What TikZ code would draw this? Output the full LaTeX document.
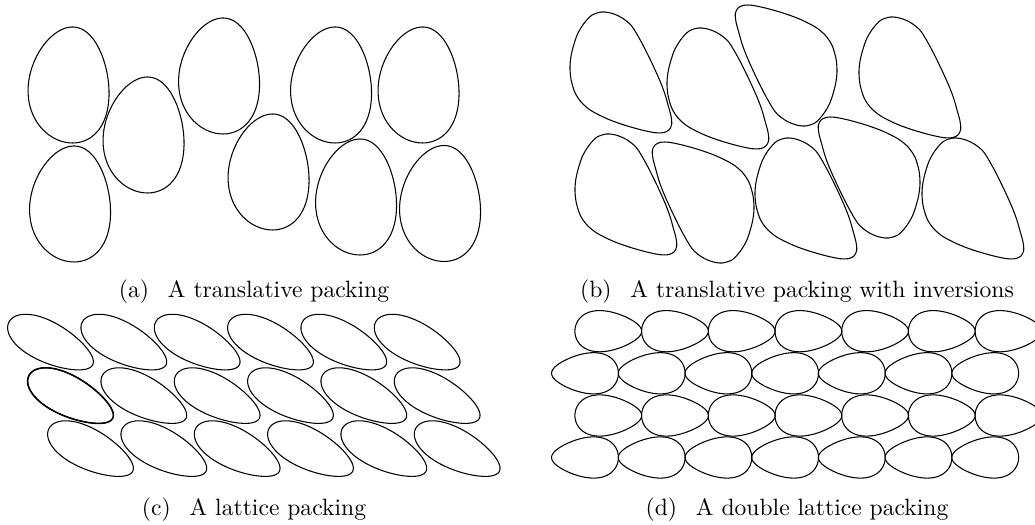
\documentclass[tikz,border=0pt]{standalone}
\begin{document}
\begin{tikzpicture}[x=0.4237pt,y=-0.4237pt,line width=0.45pt,
  caption/.style={anchor=base,inner sep=0pt,font=\normalsize}]
\useasboundingbox (0,0) rectangle (1035,525);
\clip (0,0) rectangle (1035,525);

% (a) translates of one upright egg, narrow end up
\foreach \cx/\cy in {68.5/85, 143.5/135, 219/76, 70/204, 268.5/172,
                     331/85, 418.5/85, 356/197, 440/203.5}{
  \draw[shift={(\cx,\cy)}] plot[variable=\t,domain=0:356,samples=90,smooth cycle]
    ({40.2*sin(\t)*(1-0.12*cos(\t))+4*cos(\t)*cos(\t)},{-58*cos(\t)});
}

% (b) teardrops, some turned through 180 degrees
\def\tri{plot[smooth cycle] coordinates {
  (-18.8,-60.5) (-8.8,-59.2) (1.2,-54.8) (11.2,-46.5) (21.2,-29.8)
  (31.2,-9.8) (39.5,8.5) (44.5,21.8) (47.8,33.5) (50.5,43.5)
  (51.2,51.8) (48.5,57.5) (42.8,60.2) (34.5,60.2) (21.2,57.5)
  (4.5,52.8) (-12.2,46.8) (-28.8,38.5) (-38.8,30.2) (-45.5,20.2)
  (-49.5,6.8) (-50.5,-6.5) (-48.8,-19.8) (-43.8,-36.5) (-37.2,-48.2)
  (-28.8,-57.2)}}
\foreach \cx/\cy/\rot in {620.5/72.5/0, 717.5/88.5/0, 786.5/65.5/180,
                          909.5/77.5/0, 625.5/194.5/0, 703.5/202.5/180,
                          805.5/198.5/0, 869.5/177.5/180, 972.5/198.5/0}{
  \draw[shift={(\cx,\cy)},rotate=\rot] \tri;
}

% (c) lattice of tilted eggs
\foreach \px/\py in {50.8/343.5, 70.8/397, 90.8/450}{
  \foreach \i in {0,...,5}{
    \draw[shift={(\px+73.33*\i,\py)},rotate=-27]
      plot[variable=\t,domain=0:356,samples=90,smooth cycle]
      ({47*cos(\t)},{20*sin(\t)*(1-0.16*cos(\t))});
  }
}
\draw[line width=0.65pt,shift={(70.8,397)},rotate=-27]
  plot[variable=\t,domain=0:356,samples=90,smooth cycle]
  ({47*cos(\t)},{20*sin(\t)*(1-0.16*cos(\t))});

% (d) double lattice: rows of eggs pointing alternately right and left
\foreach \py/\px/\rot in {331.2/608.3/0, 373.3/585/180, 415.5/608.3/0, 457.5/585/180}{
  \foreach \i in {0,...,6}{
    \draw[shift={(\px+66.7*\i,\py)},rotate=\rot]
      plot[variable=\t,domain=0:356,samples=90,smooth cycle]
      ({33.4*cos(\t)},{19.8*sin(\t)*(1-0.3*cos(\t))});
  }
}

% captions
\node[caption] (capa) at (254,298) {(a)\hspace{0.8em}A translative packing};
\node[caption] (capb) at (797,298) {(b)\hspace{0.8em}A translative packing with inversions};
\node[caption] (capc) at (254,516) {(c)\hspace{0.8em}A lattice packing};
\node[caption] (capd) at (797,516) {(d)\hspace{0.8em}A double lattice packing};
\end{tikzpicture}
\end{document}
